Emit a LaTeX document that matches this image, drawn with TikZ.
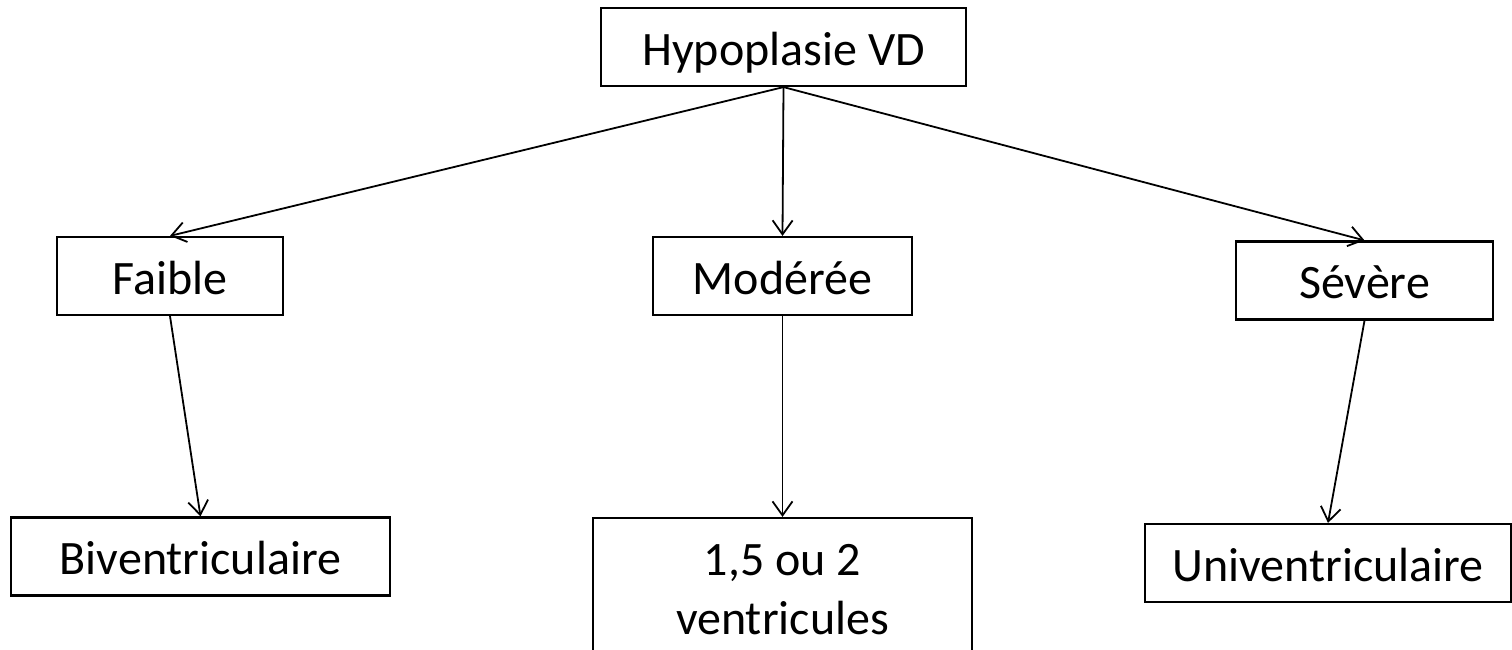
\documentclass[tikz,border=0pt]{standalone}
\usepackage{fontspec}
\setmainfont{Carlito}
\usetikzlibrary{arrows.meta,positioning}
\tikzset{
  box/.style     = {draw, line width=1.1pt, inner sep=0pt, minimum height=39pt,
                    font=\fontsize{24}{26}\selectfont},
  onebox/.style  = {box, text height=19pt, text depth=1pt},
  twobox/.style  = {box, align=center, minimum height=72pt},
  link/.style    = {-{Straight Barb[length=7pt,width=10pt,line width=0.9pt]}, line width=0.9pt},
}
\begin{document}
\begin{tikzpicture}[x=0.5pt,y=-0.5pt]
  \useasboundingbox (0,0) rectangle (1512,649);
  % degree of hypoplasia
  \node[onebox, minimum width=182.5pt] (root) at (783.5,47) {Hypoplasie VD};
  \node[onebox, minimum width=113pt]   (mild) at (170,276) {Faible};
  \node[onebox, minimum width=129.5pt] (mid)  at (782.5,276) {Modérée};
  \node[onebox, minimum width=128.5pt] (sev)  at (1364.5,280.5) {Sévère};
  % type of repair
  \node[onebox, minimum width=189.5pt] (biv)  at (200.5,556.5) {Biventriculaire};
  \node[twobox, minimum width=189.5pt] (half) at (782.5,590) {1,5 ou 2\\[3.5pt]ventricules};
  \node[onebox, minimum width=183pt]   (univ) at (1328,563) {Univentriculaire};
  \draw[link] (root.south) -- (mild.north);
  \draw[link] (root.south) -- (mid.north);
  \draw[link] (root.south) -- (sev.north);
  \draw[link] (mild.south) -- (biv.north);
  \draw[link] (mid.south)  -- (half.north);
  \draw[link] (sev.south)  -- (univ.north);
\end{tikzpicture}
\end{document}
